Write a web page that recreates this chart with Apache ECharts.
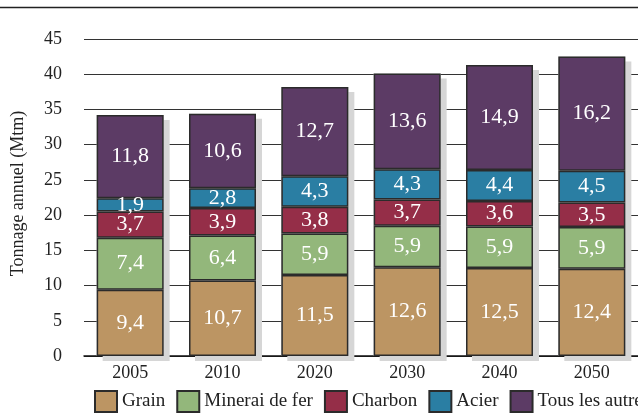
<!DOCTYPE html>
<html>
<head>
<meta charset="utf-8">
<script src="https://cdn.jsdelivr.net/npm/echarts@6/dist/echarts.min.js"></script>
<style>
  html, body { margin: 0; padding: 0; background: #fff; }
  #chart { width: 638px; height: 414px; }
</style>
</head>
<body>
<div id="chart"></div>
<script>
// Tonnage annuel par marchandise (Mtm)
const years = ['2005', '2010', '2020', '2030', '2040', '2050'];
const grain = [9.4, 10.7, 11.5, 12.6, 12.5, 12.4];
const minerai = [7.4, 6.4, 5.9, 5.9, 5.9, 5.9];
const charbon = [3.7, 3.9, 3.8, 3.7, 3.6, 3.5];
const acier = [1.9, 2.8, 4.3, 4.3, 4.4, 4.5];
const autres = [11.8, 10.6, 12.7, 13.6, 14.9, 16.2];

const FONT = '"Liberation Serif", "DejaVu Serif", serif';
const totals = years.map((_, i) =>
  +(grain[i] + minerai[i] + charbon[i] + acier[i] + autres[i]).toFixed(1));

const layers = [
  { name: 'Grain', data: grain, color: '#bc9563' },
  { name: 'Minerai de fer', data: minerai, color: '#93b77b' },
  { name: 'Charbon', data: charbon, color: '#952e48' },
  { name: 'Acier', data: acier, color: '#2a7ea3' },
  { name: 'Tous les autres', data: autres, color: '#5c3b65' }
];

const chart = echarts.init(document.getElementById('chart'), null, { renderer: 'canvas' });

const series = [
  // drop shadow behind each full column
  {
    name: '_shadow',
    type: 'bar',
    data: totals,
    barWidth: 67,
    barGap: '-100%',
    z: 1,
    clip: false,
    silent: true,
    itemStyle: {
      color: '#d6d6d6',
      shadowColor: '#d6d6d6',
      shadowOffsetX: 6,
      shadowOffsetY: 5,
      shadowBlur: 0
    },
    legendHoverLink: false
  }
].concat(layers.map(l => ({
  name: l.name,
  type: 'bar',
  stack: 'total',
  data: l.data,
  barWidth: 67,
  z: 3,
  itemStyle: { color: l.color, borderColor: '#2b2b2b', borderWidth: 1.5 },
  label: {
    show: true,
    position: 'inside',
    color: '#fff',
    fontFamily: FONT,
    fontSize: 22,
    formatter: p => String(p.value).replace('.', ',')
  }
})));

chart.setOption({
  animation: false,
  backgroundColor: '#fff',
  graphic: [{
    type: 'line',
    shape: { x1: 0, y1: 7.5, x2: 638, y2: 7.5 },
    style: { stroke: '#222', lineWidth: 1.5 }
  }],
  grid: { left: 84, right: -2, top: 39, bottom: 58 },
  legend: {
    data: layers.map(l => l.name),
    bottom: 1,
    left: 94,
    width: 800,
    padding: 0,
    itemWidth: 22,
    itemHeight: 21,
    itemGap: 11,
    icon: 'rect',
    textStyle: { fontFamily: FONT, fontSize: 19, color: '#222' }
  },
  xAxis: {
    type: 'category',
    data: years,
    axisTick: { show: false },
    axisLine: { lineStyle: { color: '#111', width: 1.5 } },
    axisLabel: { fontFamily: FONT, fontSize: 18, color: '#222', margin: 8 }
  },
  yAxis: {
    type: 'value',
    min: 0,
    max: 45,
    interval: 5,
    name: 'Tonnage annuel (Mtm)',
    nameLocation: 'middle',
    nameGap: 57,
    nameTextStyle: { fontFamily: FONT, fontSize: 18, color: '#222', padding: [0, 0, 0, 8] },
    axisLine: { show: false },
    axisTick: { show: false },
    axisLabel: { fontFamily: FONT, fontSize: 18, color: '#222', margin: 22 },
    splitLine: { lineStyle: { color: '#333', width: 1 } }
  },
  series: series
});
</script>
</body>
</html>
